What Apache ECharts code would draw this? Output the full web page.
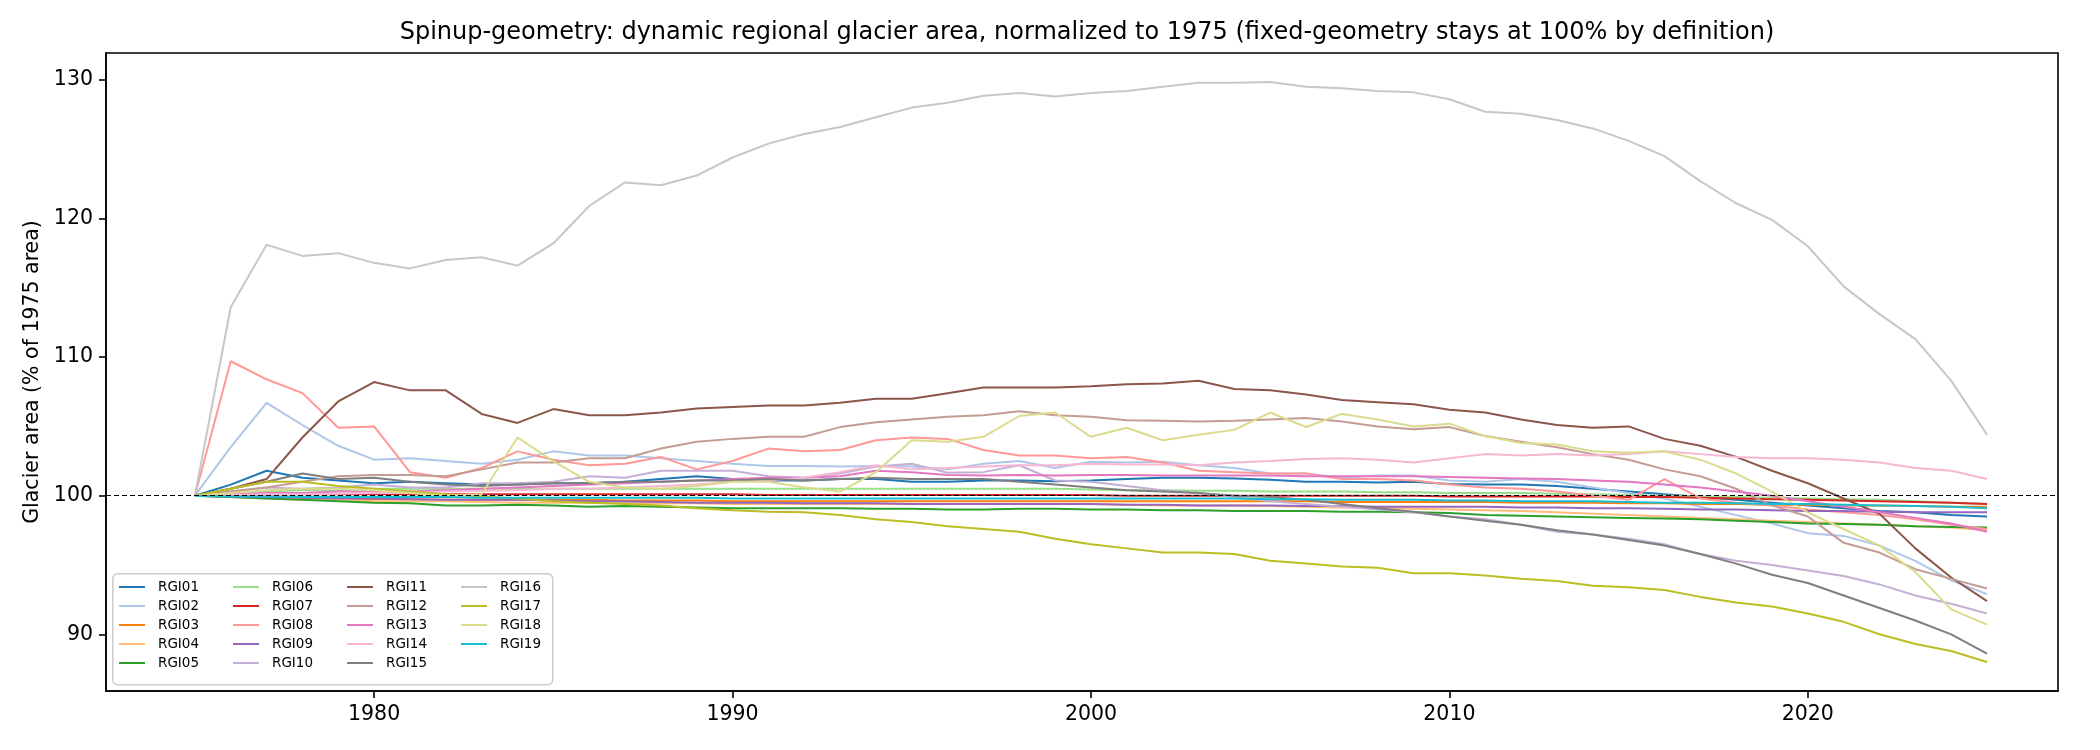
<!DOCTYPE html>
<html><head><meta charset="utf-8">
<script src="https://cdn.jsdelivr.net/npm/echarts/dist/echarts.min.js"></script>
<style>html,body{margin:0;padding:0;background:#fff}#c{width:2100px;height:750px}</style>
</head><body><div id="c"></div>
<script>
const years = [1975,1976,1977,1978,1979,1980,1981,1982,1983,1984,
  1985,1986,1987,1988,1989,1990,1991,1992,1993,1994,
  1995,1996,1997,1998,1999,2000,2001,2002,2003,2004,
  2005,2006,2007,2008,2009,2010,2011,2012,2013,2014,
  2015,2016,2017,2018,2019,2020,2021,2022,2023,2024,2025];

const RGI01 = [100,100.8,101.8,101.3,101.1,100.9,101.0,100.9,100.8,100.8,
  100.9,100.9,101.0,101.2,101.4,101.2,101.1,101.1,101.2,101.2,
  101.0,101.0,101.1,101.1,101.05,101.1,101.2,101.3,101.3,101.25,
  101.15,101.0,101.0,100.95,101.0,100.85,100.8,100.8,100.7,100.5,
  100.3,100.1,99.9,99.7,99.5,99.3,99.1,98.9,98.8,98.6,98.5];
const RGI02 = [100,103.5,106.7,105.1,103.6,102.6,102.7,102.5,102.3,102.6,
  103.2,102.9,102.9,102.7,102.5,102.3,102.15,102.15,102.1,102.15,
  102.1,101.9,102.3,102.5,102.0,102.45,102.4,102.45,102.2,102.0,
  101.6,101.6,101.3,101.45,101.45,101.1,101.0,101.2,101.0,100.6,
  100.2,99.8,99.2,98.6,98.0,97.3,97.1,96.4,95.3,93.9,92.9];
const RGI03 = [100,99.9,99.85,99.8,99.8,99.75,99.75,99.7,99.7,99.7,
  99.7,99.7,99.65,99.65,99.65,99.6,99.6,99.6,99.6,99.6,
  99.6,99.6,99.6,99.6,99.6,99.6,99.6,99.6,99.6,99.6,
  99.6,99.6,99.55,99.55,99.55,99.55,99.55,99.5,99.5,99.5,
  99.45,99.45,99.4,99.4,99.35,99.35,99.3,99.3,99.25,99.2,99.2];
const RGI04 = [100,99.9,99.8,99.7,99.7,99.6,99.6,99.6,99.55,99.5,
  99.5,99.5,99.5,99.45,99.45,99.4,99.4,99.4,99.4,99.4,
  99.4,99.4,99.4,99.4,99.4,99.4,99.35,99.3,99.3,99.3,
  99.25,99.2,99.15,99.1,99.05,99.0,98.95,98.9,98.8,98.7,
  98.6,98.5,98.4,98.3,98.2,98.1,98.0,97.9,97.8,97.7,97.5];
const RGI05 = [100,99.9,99.8,99.7,99.6,99.5,99.45,99.3,99.3,99.35,
  99.3,99.2,99.25,99.2,99.15,99.1,99.1,99.1,99.1,99.05,
  99.05,99.0,99.0,99.05,99.05,99.0,99.0,98.95,98.95,98.9,
  98.9,98.9,98.85,98.85,98.8,98.75,98.6,98.55,98.5,98.45,
  98.4,98.35,98.3,98.2,98.1,98.0,97.95,97.9,97.8,97.75,97.7];
const RGI06 = [100,100.1,100.3,100.4,100.4,100.5,100.5,100.5,100.5,100.5,
  100.5,100.5,100.5,100.5,100.5,100.5,100.5,100.5,100.5,100.5,
  100.5,100.5,100.5,100.5,100.5,100.45,100.4,100.4,100.35,100.35,
  100.3,100.3,100.3,100.25,100.25,100.2,100.2,100.2,100.15,100.1,
  100.05,100.0,99.95,99.9,99.85,99.8,99.75,99.7,99.6,99.5,99.4];
const RGI07 = [100,100.05,100.1,100.1,100.1,100.1,100.1,100.1,100.1,100.1,
  100.1,100.1,100.1,100.1,100.1,100.1,100.05,100.05,100.05,100.05,
  100.05,100.05,100.05,100.05,100.05,100.05,100.0,100.0,100.0,100.0,
  100.0,100.0,100.0,100.0,100.0,99.95,99.95,99.95,99.95,99.95,
  99.9,99.9,99.85,99.8,99.75,99.7,99.65,99.6,99.55,99.5,99.4];
const RGI08 = [100,109.7,108.4,107.4,104.9,105.0,101.7,101.3,102.0,103.2,
  102.6,102.2,102.3,102.8,101.9,102.5,103.4,103.2,103.3,104.0,
  104.2,104.1,103.3,102.9,102.9,102.7,102.8,102.4,101.8,101.7,
  101.6,101.6,101.2,101.2,101.1,100.8,100.6,100.5,100.3,100.0,
  99.7,101.2,99.8,99.5,99.3,99.0,98.8,98.6,98.3,97.9,97.6];
const RGI09 = [100,99.95,99.9,99.85,99.8,99.8,99.75,99.7,99.7,99.7,
  99.65,99.6,99.6,99.55,99.5,99.5,99.5,99.45,99.45,99.45,
  99.4,99.4,99.4,99.4,99.4,99.4,99.35,99.35,99.3,99.3,
  99.3,99.25,99.25,99.2,99.2,99.2,99.2,99.15,99.15,99.1,
  99.1,99.05,99.0,99.0,98.95,98.9,98.9,98.85,98.8,98.8,98.8];
const RGI10 = [100,100.3,100.6,100.5,100.6,100.8,100.6,100.6,100.9,100.9,
  101.0,101.4,101.3,101.8,101.8,101.8,101.4,101.3,101.6,102.1,
  102.3,101.65,101.7,102.2,101.1,101.0,100.7,100.4,100.2,99.9,
  99.6,99.4,99.2,99.0,98.8,98.5,98.3,97.9,97.4,97.2,
  96.9,96.5,95.8,95.3,95.0,94.6,94.2,93.6,92.8,92.2,91.5];
const RGI11 = [100,100.5,101.2,104.2,106.8,108.2,107.6,107.6,105.9,105.25,
  106.25,105.8,105.8,106.0,106.3,106.4,106.5,106.5,106.7,107.0,
  107.0,107.4,107.8,107.8,107.8,107.9,108.05,108.1,108.3,107.7,
  107.6,107.3,106.9,106.75,106.6,106.2,106.0,105.5,105.1,104.9,
  105.0,104.1,103.6,102.8,101.8,100.9,99.8,98.7,96.2,94.1,92.4];
const RGI12 = [100,100.3,100.6,101.0,101.4,101.5,101.5,101.4,101.9,102.4,
  102.4,102.7,102.7,103.4,103.9,104.1,104.25,104.25,104.95,105.3,
  105.5,105.7,105.8,106.1,105.8,105.7,105.45,105.4,105.35,105.4,
  105.5,105.6,105.35,105.0,104.8,104.95,104.3,103.9,103.5,103.0,
  102.6,101.9,101.4,100.5,99.3,98.5,96.6,95.9,94.7,94.0,93.3];
const RGI13 = [100,100.1,100.2,100.2,100.3,100.3,100.3,100.4,100.5,100.6,
  100.7,100.8,100.9,101.0,101.1,101.2,101.3,101.3,101.4,101.8,
  101.7,101.5,101.45,101.5,101.45,101.5,101.5,101.45,101.45,101.45,
  101.45,101.4,101.4,101.4,101.4,101.35,101.3,101.25,101.2,101.1,
  101.0,100.8,100.6,100.3,100.0,99.6,99.2,98.8,98.4,98.0,97.4];
const RGI14 = [100,100.05,100.1,100.1,100.15,100.2,100.2,100.3,100.35,100.4,
  100.5,100.5,100.6,100.7,100.8,101.0,101.1,101.3,101.7,102.2,
  101.9,102.0,102.1,102.2,102.2,102.3,102.25,102.25,102.2,102.4,
  102.5,102.65,102.7,102.6,102.4,102.7,103.0,102.9,103.0,102.9,
  103.0,103.2,103.0,102.8,102.7,102.7,102.6,102.4,102.0,101.8,101.2];
const RGI15 = [100,100.5,101.0,101.6,101.2,101.3,101.0,100.8,100.7,100.8,
  100.9,100.9,101.0,101.0,101.1,101.1,101.2,101.1,101.2,101.3,
  101.2,101.2,101.2,101.0,100.8,100.6,100.4,100.3,100.2,100.0,
  99.9,99.7,99.4,99.1,98.85,98.5,98.2,97.9,97.5,97.2,
  96.8,96.4,95.8,95.1,94.3,93.7,92.8,91.9,91.0,90.0,88.6];
const RGI16 = [100,113.6,118.1,117.3,117.5,116.8,116.4,117.0,117.2,116.6,
  118.2,120.9,122.6,122.4,123.1,124.4,125.4,126.1,126.6,127.3,
  128.0,128.35,128.85,129.06,128.8,129.05,129.2,129.5,129.8,129.8,
  129.85,129.5,129.4,129.2,129.1,128.6,127.7,127.55,127.1,126.5,
  125.6,124.5,122.7,121.1,119.9,118.0,115.1,113.1,111.3,108.3,104.4];
const RGI17 = [100,100.5,101.0,101.0,100.7,100.5,100.3,100.1,99.95,99.8,
  99.6,99.5,99.4,99.3,99.1,98.95,98.85,98.8,98.6,98.3,
  98.1,97.8,97.6,97.4,96.9,96.5,96.2,95.9,95.9,95.8,
  95.3,95.1,94.9,94.8,94.4,94.4,94.25,94.0,93.85,93.5,
  93.4,93.2,92.7,92.3,92.0,91.5,90.9,90.0,89.3,88.8,88.0];
const RGI18 = [100,100.2,100.4,100.5,100.5,100.4,100.2,100.0,100.1,104.2,
  102.5,101.0,100.6,100.5,100.7,101.0,101.0,100.6,100.3,101.7,
  104.0,103.9,104.25,105.75,106.0,104.25,104.9,104.0,104.4,104.75,
  106.0,104.96,105.9,105.5,105.0,105.2,104.3,103.8,103.7,103.2,
  103.1,103.2,102.6,101.6,100.3,98.8,97.6,96.4,94.5,91.8,90.7];
const RGI19 = [100,99.95,99.95,99.9,99.9,99.9,99.9,99.9,99.85,99.85,
  99.85,99.85,99.85,99.85,99.85,99.8,99.8,99.8,99.8,99.8,
  99.8,99.8,99.8,99.8,99.8,99.8,99.8,99.8,99.8,99.8,
  99.75,99.75,99.7,99.7,99.7,99.65,99.65,99.6,99.6,99.6,
  99.55,99.5,99.5,99.45,99.4,99.4,99.35,99.3,99.25,99.2,99.1];

const regionNames = ['RGI01','RGI02','RGI03','RGI04','RGI05','RGI06','RGI07','RGI08','RGI09','RGI10',
  'RGI11','RGI12','RGI13','RGI14','RGI15','RGI16','RGI17','RGI18','RGI19'];
const regionValues = [RGI01,RGI02,RGI03,RGI04,RGI05,RGI06,RGI07,RGI08,RGI09,RGI10,
  RGI11,RGI12,RGI13,RGI14,RGI15,RGI16,RGI17,RGI18,RGI19];
const xTickValues = [1980,1990,2000,2010,2020];
const yTickValues = [90,100,110,120,130];
const referenceLevel = 100;

const colors = ['#1f77b4','#aec7e8','#ff7f0e','#ffbb78','#2ca02c','#98df8a','#d62728','#ff9896',
  '#9467bd','#c5b0d5','#8c564b','#c49c94','#e377c2','#f7b6d2','#7f7f7f','#c7c7c7','#bcbd22','#dbdb8d','#17becf'];

const FONT = 'DejaVu Sans';
const series = regionNames.map((name, i) => ({
  name: name,
  type: 'line',
  data: years.map((y, j) => [y, regionValues[i][j]]),
  symbol: 'none',
  showSymbol: false,
  lineStyle: { width: 2, color: colors[i] },
  itemStyle: { color: colors[i] },
  animation: false,
  silent: true
}));
series[series.length - 1].markLine = {
  silent: true,
  symbol: ['none', 'none'],
  label: { show: false },
  lineStyle: { color: '#000', width: 1.1, type: [5, 3] },
  data: [{ yAxis: referenceLevel }],
  animation: false
};

const colLefts = [118, 232, 346, 460];
const legends = [0, 1, 2, 3].map(c => ({
  orient: 'vertical',
  left: colLefts[c],
  top: 580,
  padding: 0,
  icon: 'inherit',
  itemWidth: 26,
  itemHeight: 14,
  itemGap: 5,
  z: 20,
  selectedMode: false,
  itemStyle: { opacity: 0 },
  lineStyle: { width: 2 },
  textStyle: { fontFamily: FONT, fontSize: 13.5, color: '#000', lineHeight: 14, padding: [0, 0, 0, 8] },
  data: regionNames.slice(c * 5, c * 5 + 5)
}));

const chart = echarts.init(document.getElementById('c'), null, { renderer: 'canvas' });
chart.setOption({
  animation: false,
  backgroundColor: '#fff',
  title: {
    text: 'Spinup-geometry: dynamic regional glacier area, normalized to 1975 (fixed-geometry stays at 100% by definition)',
    left: 1082, top: 16, textAlign: 'center',
    textStyle: { fontFamily: FONT, fontSize: 24, fontWeight: 'normal', color: '#000' }
  },
  grid: {
    left: 106, right: 42, top: 53, bottom: 59,
    show: true, borderColor: '#000', borderWidth: 1.6, backgroundColor: 'transparent',
    containLabel: false, outerBoundsMode: 'none'
  },
  legend: legends,
  graphic: [{
    type: 'rect', z: 10, left: 112, top: 573,
    shape: { width: 440, height: 111, r: 5 },
    style: { fill: 'rgba(255,255,255,0.8)', stroke: '#cccccc', lineWidth: 1.5 }
  }],
  xAxis: {
    type: 'value', min: 1972.52, max: 2026.98,
    axisLine: { show: true, lineStyle: { color: '#000', width: 1.6 } },
    axisTick: { show: true, inside: false, length: 7, lineStyle: { color: '#000', width: 1.6 }, customValues: xTickValues },
    axisLabel: { show: true, margin: 13, fontFamily: FONT, fontSize: 20.5, color: '#000', customValues: xTickValues, formatter: v => String(v) },
    splitLine: { show: false }
  },
  yAxis: {
    type: 'value', min: 85.91, max: 131.94,
    name: 'Glacier area (% of 1975 area)', nameLocation: 'middle', nameGap: 62, nameRotate: 90,
    nameTextStyle: { fontFamily: FONT, fontSize: 20.5, color: '#000' },
    axisLine: { show: true, lineStyle: { color: '#000', width: 1.6 } },
    axisTick: { show: true, inside: false, length: 7, lineStyle: { color: '#000', width: 1.6 }, customValues: yTickValues },
    axisLabel: { show: true, margin: 13, fontFamily: FONT, fontSize: 20.5, color: '#000', customValues: yTickValues, formatter: v => String(v) },
    splitLine: { show: false }
  },
  series: series
});
</script></body></html>
